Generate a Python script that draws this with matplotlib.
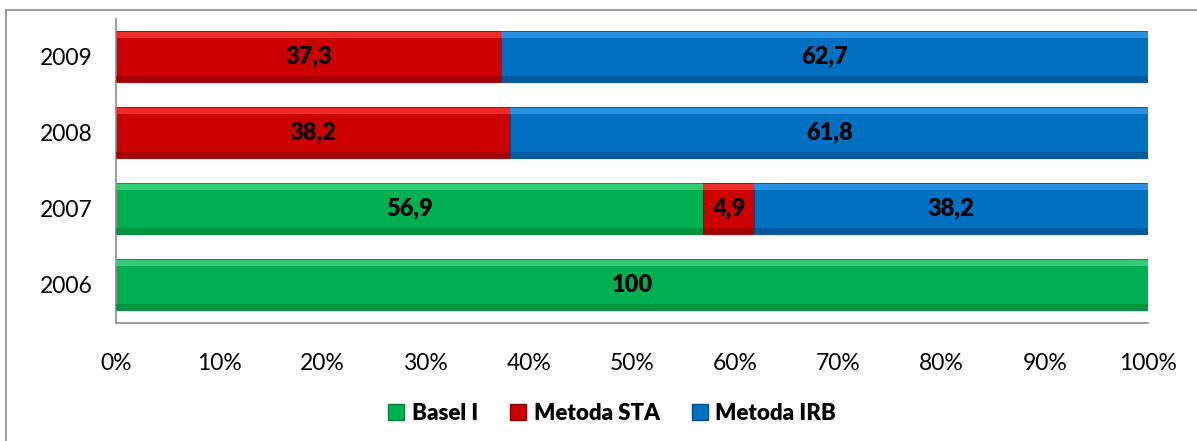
import matplotlib.pyplot as plt
import numpy as np
from matplotlib.lines import Line2D

plt.rcParams['font.family'] = ['Lato', 'DejaVu Sans']

years = ['2006', '2007', '2008', '2009']
basel = [100, 56.9, 0, 0]
sta = [0, 4.9, 38.2, 37.3]
irb = [0, 38.2, 61.8, 62.7]
series = ['Basel I', 'Metoda STA', 'Metoda IRB']
colors = ['#00B050', '#CC0000', '#0070C0']
light = ['#4CD98A', '#FF4040', '#3AA0F0']
dark = ['#00803A', '#8E0000', '#004E88']

fig = plt.figure(figsize=(11.97, 4.41), dpi=100)
ax = fig.add_axes([0.0969, 0.2687, 0.8622, 0.6893])

y = np.arange(len(years))
h = 0.67
left = np.zeros(len(years))
for vals, c, lc, dc in zip([basel, sta, irb], colors, light, dark):
    vals = np.array(vals)
    m = vals > 0
    # shadow
    ax.barh(y[m] - 0.03, vals[m], height=h, left=left[m], color='#b0b0b0', alpha=0.35, zorder=1)
    ax.barh(y[m], vals[m], height=h, left=left[m], color=c, edgecolor=dc, linewidth=0.6, zorder=2)
    # bevel highlights
    ax.barh(y[m] + h / 2 - 0.05, vals[m], height=0.08, left=left[m], color=lc, alpha=0.7, zorder=3)
    ax.barh(y[m] - h / 2 + 0.04, vals[m], height=0.07, left=left[m], color=dc, alpha=0.6, zorder=3)
    for yi, l, v in zip(y[m], left[m], vals[m]):
        txt = ('%g' % v).replace('.', ',')
        ax.text(l + v / 2, yi, txt, ha='center', va='center', fontsize=17,
                fontweight='heavy', color='black', zorder=5)
    left = left + vals

ax.set_xlim(0, 100)
ax.set_ylim(-0.5, 3.5)
ax.set_yticks(y)
ax.set_yticklabels(years, fontsize=16.5)
ax.set_xticks(np.arange(0, 101, 10))
ax.set_xticklabels(['%d%%' % v for v in range(0, 101, 10)], fontsize=16.5)
ax.tick_params(axis='both', length=0)
ax.tick_params(axis='x', pad=22)
ax.tick_params(axis='y', pad=17)
for s in ['top', 'right']:
    ax.spines[s].set_visible(False)
for s in ['left', 'bottom']:
    ax.spines[s].set_color('#8c8c8c')
    ax.spines[s].set_linewidth(1.2)

handles = [Line2D([], [], marker='s', linestyle='none', markersize=12,
                  markerfacecolor=c, markeredgecolor=d) for c, d in zip(colors, dark)]
fig.legend(handles, series, loc='center', bbox_to_anchor=(0.511, 0.063), ncol=3,
           frameon=False, prop={'weight': 'heavy', 'size': 16},
           handlelength=0.8, handletextpad=0.3, columnspacing=1.4)

# outer chart frame
fig.add_artist(Line2D([0.005, 0.005], [0, 0.977], color='#8c8c8c', lw=1.2, transform=fig.transFigure))
fig.add_artist(Line2D([0.005, 1.0], [0.977, 0.977], color='#8c8c8c', lw=1.2, transform=fig.transFigure))

fig.savefig('out.png', dpi=100)
